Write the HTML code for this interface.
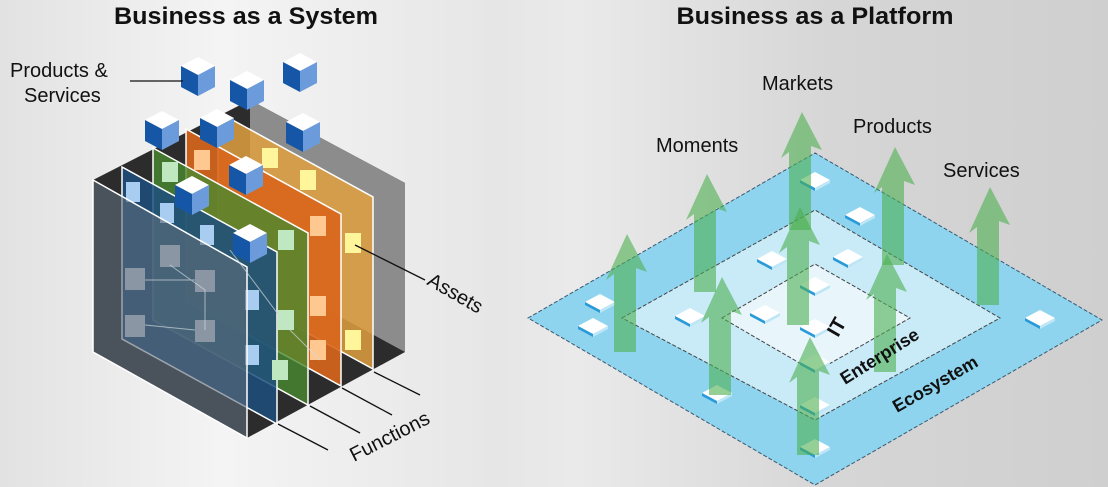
<!DOCTYPE html>
<html><head><meta charset="utf-8"><style>
html,body{margin:0;padding:0;}
body{width:1108px;height:487px;overflow:hidden;background:linear-gradient(90deg,#e2e2e2 0%,#f4f4f4 20%,#e6e6e6 45%,#eaeaea 52%,#d6d6d6 75%,#cfcfcf 100%);font-family:"Liberation Sans",Arial,sans-serif;}
svg{position:absolute;left:0;top:0;}
</style></head><body>
<svg width="1108" height="487" viewBox="0 0 1108 487" xmlns="http://www.w3.org/2000/svg" font-family="Liberation Sans, Arial, sans-serif">
<defs>
<g id="cube">
<polygon points="0,-9 17,0 0,9 -17,0" fill="#fff"/>
<polygon points="-17,0 0,9 0,30 -17,21" fill="#1656a6"/>
<polygon points="17,0 0,9 0,30 17,21" fill="#6c9bdb"/>
</g>
<g id="tile">
<polygon points="0,-8 15,0 0,8 -15,0" fill="#fff"/>
<polygon points="-15,0 0,8 0,11 -15,3" fill="#2a9ad8"/>
<polygon points="15,0 0,8 0,11 15,3" fill="#bfe6f6"/>
</g>
<g id="arrow">
<polygon points="-11,0 -11,-78 -19,-72 2,-118 22,-80 11,-84 11,0" fill="#4caf50" fill-opacity="0.6"/>
</g>
</defs>

<text x="246" y="24" font-size="24" font-weight="bold" text-anchor="middle" fill="#111" textLength="264" lengthAdjust="spacingAndGlyphs">Business as a System</text>
<text x="815" y="24" font-size="24" font-weight="bold" text-anchor="middle" fill="#111" textLength="277" lengthAdjust="spacingAndGlyphs">Business as a Platform</text>

<!-- LEFT: layered box -->
<polygon points="93,180 250,100 405,183 405,352 247,438 93,352" fill="#2c2c2c"/>
<polygon points="250,100 405,183 405,352 250,268" fill="#8c8c8c"/>
<polygon points="218,112 373,197 373,369 218,284" fill="#e0a040" fill-opacity="0.85" stroke="#fff" stroke-width="1.5"/>
<polygon points="186,129 341,214 341,386 186,301" fill="#d8661c" fill-opacity="0.9" stroke="#fff" stroke-width="1.5"/>
<polygon points="153,148 308,233 308,405 153,320" fill="#4a8a30" fill-opacity="0.8" stroke="#fff" stroke-width="1.5"/>
<polygon points="122,167 277,252 277,424 122,339" fill="#1d4f7e" fill-opacity="0.85" stroke="#fff" stroke-width="1.5"/>
<!-- nodes -->
<g fill="#fff59a"><rect x="262" y="148" width="16" height="20"/><rect x="300" y="170" width="16" height="20"/><rect x="345" y="233" width="16" height="20"/><rect x="345" y="330" width="16" height="20"/></g>
<g fill="#ffc890"><rect x="194" y="150" width="16" height="20"/><rect x="310" y="216" width="16" height="20"/><rect x="310" y="296" width="16" height="20"/><rect x="310" y="340" width="16" height="20"/></g>
<g fill="#bfe8c0"><rect x="162" y="162" width="16" height="20"/><rect x="278" y="230" width="16" height="20"/><rect x="278" y="310" width="16" height="20"/><rect x="272" y="360" width="16" height="20"/></g>
<g fill="#a8cdf0"><rect x="126" y="182" width="14" height="20"/><rect x="160" y="203" width="14" height="20"/><rect x="200" y="225" width="14" height="20"/><rect x="245" y="290" width="14" height="20"/><rect x="245" y="345" width="14" height="20"/></g>
<polygon points="93,180 247,267 247,438 93,352" fill="#5e6c7a" fill-opacity="0.62" stroke="#fff" stroke-width="1.5"/>
<g fill="#8a96a4"><rect x="125" y="268" width="20" height="22"/><rect x="160" y="245" width="20" height="22"/><rect x="195" y="270" width="20" height="22"/><rect x="125" y="315" width="20" height="22"/><rect x="195" y="320" width="20" height="22"/></g>
<g stroke="#cfd8e0" stroke-width="1" fill="none" opacity="0.7"><path d="M145,280 L195,280 M145,325 L195,330 M170,265 L205,290 L205,330 M230,250 L290,330 L320,360"/></g>
<!-- cubes -->
<use href="#cube" x="198" y="66"/>
<use href="#cube" x="247" y="80"/>
<use href="#cube" x="300" y="62"/>
<use href="#cube" x="162" y="120"/>
<use href="#cube" x="217" y="118"/>
<use href="#cube" x="303" y="122"/>
<use href="#cube" x="246" y="165"/>
<use href="#cube" x="192" y="185"/>
<use href="#cube" x="250" y="233"/>
<!-- labels left -->
<text x="10" y="77" font-size="20" fill="#111">Products &amp;</text>
<text x="24" y="102" font-size="20" fill="#111">Services</text>
<line x1="130" y1="81" x2="183" y2="81" stroke="#111" stroke-width="1.3"/>
<line x1="355" y1="245" x2="425" y2="280" stroke="#111" stroke-width="1.3"/>
<text x="0" y="0" font-size="20" fill="#111" transform="translate(426,284) rotate(30)">Assets</text>
<g stroke="#111" stroke-width="1.3"><line x1="374" y1="372" x2="420" y2="395"/><line x1="342" y1="388" x2="392" y2="415"/><line x1="310" y1="406" x2="360" y2="433"/><line x1="278" y1="424" x2="328" y2="450"/></g>
<text x="0" y="0" font-size="20" fill="#111" transform="translate(354,462) rotate(-27)">Functions</text>

<!-- RIGHT: platform -->
<polygon points="528,318 815,153 1102,320 815,485" fill="#8fd4ee" stroke="#3a5a70" stroke-width="1" stroke-dasharray="4,2"/>
<polygon points="622,318 815,210 1000,318 815,420" fill="#c9eaf7" stroke="#444" stroke-width="1" stroke-dasharray="4,2"/>
<polygon points="722,318 815,264 910,318 815,372" fill="#e8f6fc" stroke="#444" stroke-width="1" stroke-dasharray="4,2"/>
<use href="#tile" x="815" y="180"/>
<use href="#tile" x="860" y="215"/>
<use href="#tile" x="772" y="259"/>
<use href="#tile" x="848" y="257"/>
<use href="#tile" x="600" y="302"/>
<use href="#tile" x="593" y="326"/>
<use href="#tile" x="690" y="316"/>
<use href="#tile" x="765" y="313"/>
<use href="#tile" x="815" y="285"/>
<use href="#tile" x="815" y="327"/>
<use href="#tile" x="1040" y="318"/>
<use href="#tile" x="717" y="393"/>
<use href="#tile" x="815" y="362"/>
<use href="#tile" x="815" y="405"/>
<use href="#tile" x="815" y="447"/>
<!-- arrows -->
<use href="#arrow" x="625" y="352"/>
<use href="#arrow" x="705" y="292"/>
<use href="#arrow" x="720" y="395"/>
<use href="#arrow" x="800" y="230"/>
<use href="#arrow" x="798" y="325"/>
<use href="#arrow" x="808" y="455"/>
<use href="#arrow" x="893" y="265"/>
<use href="#arrow" x="885" y="372"/>
<use href="#arrow" x="988" y="305"/>
<text x="762" y="90" font-size="20" fill="#111">Markets</text>
<text x="656" y="152" font-size="20" fill="#111">Moments</text>
<text x="853" y="133" font-size="20" fill="#111">Products</text>
<text x="943" y="177" font-size="20" fill="#111">Services</text>
<text x="0" y="0" font-size="20" font-weight="bold" fill="#111" transform="translate(838,338) rotate(-60)">IT</text>
<text x="0" y="0" font-size="18" font-weight="bold" fill="#111" transform="translate(845,385) rotate(-32)">Enterprise</text>
<text x="0" y="0" font-size="18" font-weight="bold" fill="#111" transform="translate(897,413) rotate(-30)">Ecosystem</text>
</svg>
</body></html>
